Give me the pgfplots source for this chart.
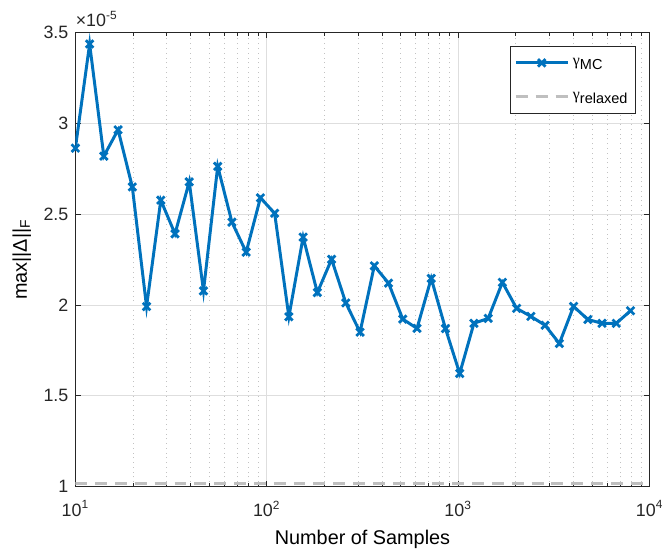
\documentclass[border=0pt]{standalone}
\usepackage{pgfplots}
\pgfplotsset{compat=1.18}
\usepackage{fontspec}
\setmainfont{Liberation Sans}
\newfontfamily\symf{Liberation Serif}
\definecolor{mblue}{RGB}{0,114,189}
\definecolor{mgray}{RGB}{191,191,191}
\definecolor{axcol}{RGB}{38,38,38}
\pgfplotstableread{
x y
10 2.862e-5
11.87 3.435e-5
14.08 2.818e-5
16.71 2.963e-5
19.84 2.649e-5
23.54 1.991e-5
27.94 2.576e-5
33.15 2.391e-5
39.34 2.677e-5
46.69 2.077e-5
55.41 2.762e-5
65.76 2.455e-5
78.04 2.290e-5
92.61 2.589e-5
109.9 2.504e-5
130.4 1.935e-5
154.8 2.373e-5
183.7 2.068e-5
218.0 2.251e-5
258.7 2.011e-5
307.0 1.850e-5
364.4 2.215e-5
432.4 2.120e-5
513.2 1.922e-5
609.0 1.871e-5
722.7 2.146e-5
857.7 1.870e-5
1017.9 1.623e-5
1208 1.899e-5
1434 1.926e-5
1701 2.124e-5
2019 1.981e-5
2396 1.937e-5
2844 1.888e-5
3375 1.788e-5
4005 1.992e-5
4753 1.920e-5
5640 1.899e-5
6694 1.899e-5
7944 1.968e-5
}\mcdata
\begin{document}
\begin{tikzpicture}
\begin{axis}[
  name=ax,
  scale only axis,
  width=289.5pt, height=229.2pt,
  xmode=log,
  xmin=10, xmax=10000,
  ymin=1e-5, ymax=3.5e-5,
  xtick={10,100,1000,10000},
  xticklabels={10\textsuperscript{1},10\textsuperscript{2},10\textsuperscript{3},10\textsuperscript{4}},
  ytick={1e-5,1.5e-5,2e-5,2.5e-5,3e-5,3.5e-5},
  scaled y ticks=base 10:5,
  ytick scale label code/.code={×10\textsuperscript{#1}},
  every y tick scale label/.style={at={(rel axis cs:0,1)}, anchor=south west, inner sep=0pt, yshift=2.5pt, font=\fontsize{9}{10}\selectfont, color=axcol},
  /pgf/number format/assume math mode=true,
  tick align=inside,
  major tick length=3pt,
  minor tick length=1.8pt,
  tick style={axcol, line width=0.4pt},
  axis line style={axcol, line width=0.5pt},
  xmajorgrids, ymajorgrids, xminorgrids,
  major grid style={black!13, line width=0.4pt},
  minor grid style={black!24, dotted, line width=0.4pt},
  tick label style={font=\fontsize{9}{10}\selectfont, color=axcol},
  xticklabel style={yshift=-3.5pt},
  label style={font=\fontsize{9.9}{11}\selectfont, color=axcol},
  xlabel={Number of Samples},
  ylabel={max||Δ||\textsubscript{F}},
  every axis x label/.style={at={([yshift=-26.5pt]rel axis cs:0.5,0)}, anchor=center},
  every axis y label/.style={at={([xshift=-27pt]rel axis cs:0,0.5)}, anchor=center, rotate=90},
  legend style={
    at={(rel axis cs:0.9759,0.9686)}, anchor=north east,
    draw=axcol, line width=0.4pt, fill=white,
    font=\fontsize{8}{9.5}\selectfont,
    inner xsep=2pt, inner ysep=3.5pt,
    row sep=8pt,
    cells={anchor=west},
  },
  legend image code/.code={\draw[mark repeat=2,mark phase=2,#1] plot coordinates {(0pt,0pt) (13pt,0pt) (26pt,0pt)};},
]
\addplot[mblue, line width=1.5pt, mark=x, mark size=2.7pt, mark options={solid, line width=1.4pt}] table[x=x,y=y] {\mcdata};
\addlegendentry{{\symf γ}\raisebox{-2.2pt}{\fontsize{7.3}{8}\selectfont MC}}
\addplot[mgray, line width=1.5pt, dash pattern=on 6pt off 4pt] coordinates {(10,1.019e-5) (10000,1.019e-5)};
\addlegendentry{{\symf γ}\raisebox{-2.2pt}{\fontsize{7.3}{8}\selectfont relaxed}}
\end{axis}
\path ([shift={(-38pt,-28.7pt)}]ax.south west) rectangle ([shift={(7.5pt,16.2pt)}]ax.north east);
\end{tikzpicture}
\end{document}
